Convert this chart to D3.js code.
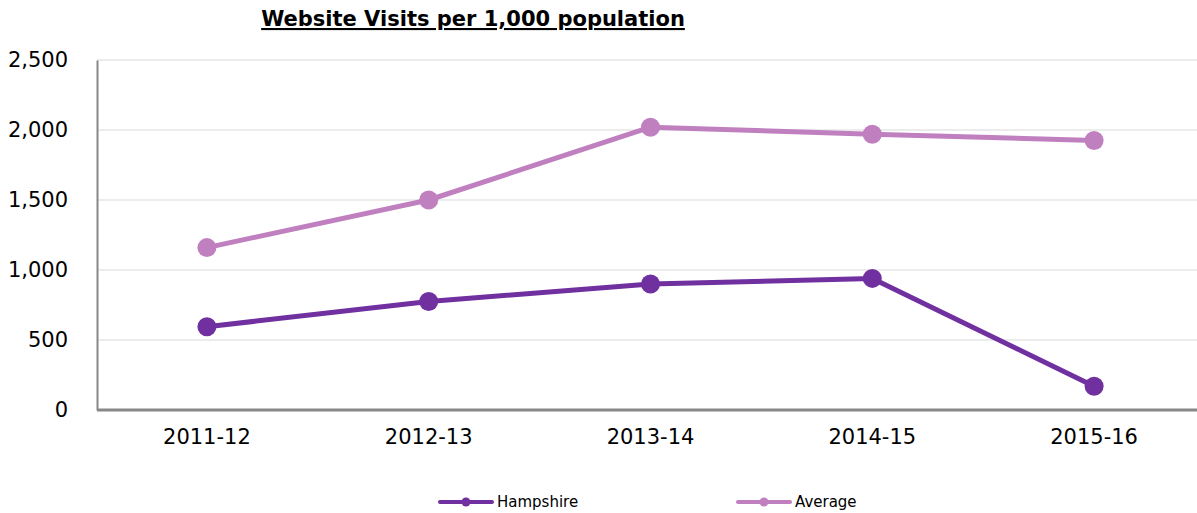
<!DOCTYPE html>
<html><head><meta charset="utf-8">
<script src="https://cdn.jsdelivr.net/npm/d3@7"></script>
<style>body{margin:0;background:#fff;} svg{display:block;font-family:"DejaVu Sans",Verdana,sans-serif;}</style>
</head><body>
<svg id="c" width="1197" height="513"></svg>
<script>
const categories = ["2011-12","2012-13","2013-14","2014-15","2015-16"];
const hampshire = [595, 775, 900, 940, 170];
const average = [1160, 1500, 2020, 1970, 1925];
const yTicks = [0, 500, 1000, 1500, 2000, 2500];
const seriesNames = ["Hampshire","Average"];
const colors = ["#7030A0","#C080C0"];

(function(){
const svg = d3.select("#c");
const mLeft = 97, mRight = 1197, mTop = 60, mBottom = 410;
const x = d3.scaleBand().domain(categories).range([96, 1205]);
const y = d3.scaleLinear().domain([0, 2500]).range([mBottom, mTop]);

svg.append("g").selectAll("line").data(yTicks.filter(d=>d>0)).join("line")
  .attr("x1", mLeft).attr("x2", mRight).attr("y1", d=>y(d)).attr("y2", d=>y(d))
  .attr("stroke", "#d9d9d9").attr("stroke-width", 1);

const yAxis = d3.axisLeft(y).tickValues(yTicks).tickSize(0).tickPadding(29).tickFormat(d3.format(","));
const gy = svg.append("g").attr("transform", `translate(${mLeft},0)`).call(yAxis);
gy.select(".domain").attr("stroke", "#888").attr("stroke-width", 2);
gy.selectAll("text").attr("font-size", 21).attr("fill", "#000").attr("font-family", "DejaVu Sans, Verdana, sans-serif");

const xAxis = d3.axisBottom(x).tickSize(0).tickPadding(19);
const gx = svg.append("g").attr("transform", `translate(0,${mBottom})`).call(xAxis);
gx.select(".domain").attr("d", `M${mLeft},0H${mRight}`).attr("stroke", "#888").attr("stroke-width", 3);
gx.selectAll("text").attr("font-size", 21).attr("fill", "#000").attr("font-family", "DejaVu Sans, Verdana, sans-serif").attr("dy", "0.71em");

const cx = c => x(c) + x.bandwidth()/2;
const line = d3.line().x((d,i)=>cx(categories[i])).y(d=>y(d));
const data = [hampshire, average];
data.forEach((s, k) => {
  svg.append("path").datum(s).attr("d", line).attr("fill","none")
    .attr("stroke", colors[k]).attr("stroke-width", 5).attr("stroke-linejoin","round");
  svg.append("g").selectAll("circle").data(s).join("circle")
    .attr("cx", (d,i)=>cx(categories[i])).attr("cy", d=>y(d)).attr("r", 9.5).attr("fill", colors[k]);
});

svg.append("text").attr("x", 473).attr("y", 26).attr("text-anchor","middle")
  .attr("font-size", 21).attr("font-weight","bold").attr("text-decoration","underline")
  .text("Website Visits per 1,000 population");

const legX = [440, 738];
seriesNames.forEach((n, k) => {
  const g = svg.append("g").attr("transform", `translate(${legX[k]},502)`);
  g.append("line").attr("x1",0).attr("x2",52).attr("y1",0).attr("y2",0).attr("stroke",colors[k]).attr("stroke-width",4).attr("stroke-linecap","round");
  g.append("circle").attr("cx",26).attr("cy",0).attr("r",4.5).attr("fill",colors[k]);
  g.append("text").attr("x",57).attr("y",0).attr("dy","0.35em").attr("font-size",15).text(n);
});
})();
</script>
</body></html>
